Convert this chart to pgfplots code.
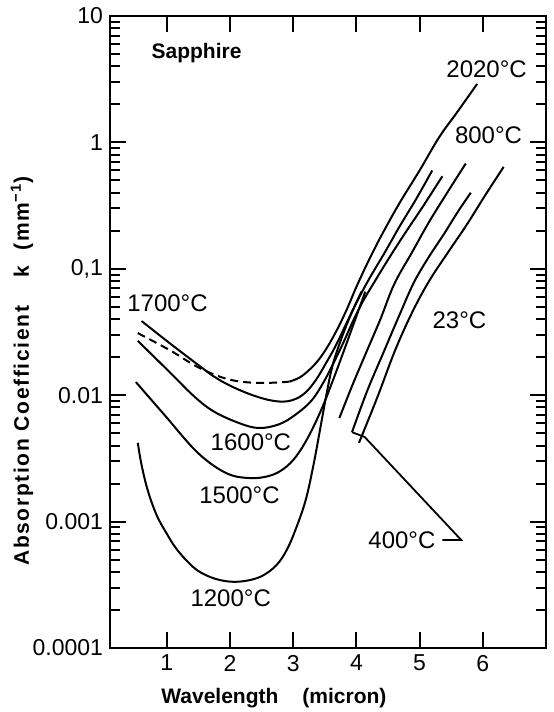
\documentclass[border=0pt]{standalone}
\usepackage{fontspec}
\setmainfont{Liberation Sans}
\usepackage{pgfplots}
\pgfplotsset{compat=1.18}
\tikzset{lab/.style={font=\fontsize{12}{14}\selectfont}}

\begin{document}
\begin{tikzpicture}
\begin{axis}[
  scale only axis, width=218pt, height=316pt,
  xmin=0.1, xmax=7, ymode=log, ymin=1e-4, ymax=10,
  clip mode=individual,
  xtick={1,2,3,4,5,6}, xticklabels={1,2,3,4,5,6},
  ytick={1e-4,1e-3,1e-2,1e-1,1,10},
  yticklabels={0.0001,0.001,0.01,{0,1},1,10},
  tick align=inside, major tick length=8pt, minor tick length=5pt,
  every tick/.style={black, line width=1pt},
  axis line style={line width=1.4pt},
  tick label style={font=\fontsize{11.5}{13}\selectfont},
  /pgf/number format/assume math mode=true,
  curve/.style={black, line width=1pt, smooth, tension=0.6},
]
% 2020 C (dashed at short wavelengths)
\addplot[curve, dash pattern=on 4pt off 2.5pt] coordinates {(0.54,0.0310) (1.04,0.0228) (1.52,0.0164) (1.99,0.0133) (2.46,0.0125) (2.94,0.0128)};
\addplot[curve] coordinates {(2.94,0.0128) (3.10,0.0138) (3.25,0.0158) (3.40,0.0190) (3.55,0.0245) (3.70,0.0335) (3.85,0.0480) (4.00,0.0720) (4.20,0.118) (4.40,0.185) (4.68,0.33) (5.00,0.60) (5.31,1.1) (5.60,1.75) (5.91,2.90)};
% 1700 C
\addplot[curve] coordinates {(0.60,0.0386) (1.04,0.0259) (1.52,0.0170) (1.75,0.0140) (2.00,0.0119) (2.31,0.0102) (2.60,0.0092) (2.85,0.0089) (3.05,0.0094) (3.22,0.0108) (3.38,0.0137) (3.52,0.0180) (3.67,0.0245) (3.83,0.0360) (4.00,0.0540) (4.20,0.083) (4.45,0.135) (4.68,0.215) (4.95,0.36) (5.20,0.60)};
% 1600 C
\addplot[curve] coordinates {(0.54,0.0269) (1.04,0.0153) (1.44,0.0097) (1.75,0.0074) (2.15,0.0060) (2.46,0.0055) (2.78,0.0059) (3.05,0.0071) (3.30,0.0092) (3.50,0.0132) (3.65,0.0185) (3.80,0.0265) (3.95,0.0390) (4.10,0.055) (4.28,0.078) (4.50,0.118) (4.75,0.185) (5.05,0.31) (5.36,0.54)};
% 1500 C
\addplot[curve] coordinates {(0.51,0.0127) (0.96,0.0070) (1.49,0.0035) (1.94,0.00242) (2.31,0.00221) (2.62,0.00230) (2.85,0.00262) (3.05,0.0033) (3.25,0.0048) (3.45,0.0078) (3.62,0.0128) (3.78,0.0210) (3.95,0.036) (4.14,0.066)};
% 1200 C
\addplot[curve] coordinates {(0.54,0.0042) (0.60,0.0028) (0.70,0.00175) (0.84,0.00112) (1.00,0.00080) (1.15,0.00061) (1.35,0.00047) (1.52,0.00040) (1.75,0.000355) (2.00,0.000335) (2.25,0.00034) (2.50,0.00037) (2.73,0.00045) (2.90,0.00060) (3.05,0.00090) (3.20,0.00150) (3.32,0.0028) (3.42,0.0052) (3.52,0.0098) (3.62,0.0170) (3.75,0.0270) (3.90,0.042) (4.08,0.066)};
% 800 C
\addplot[curve] coordinates {(3.73,0.0066) (3.93,0.0118) (4.15,0.0215) (4.38,0.040) (4.60,0.076) (4.88,0.135) (5.15,0.235) (5.45,0.41) (5.73,0.68)};
% 400 C
\addplot[curve] coordinates {(3.93,0.0051) (4.17,0.0108) (4.44,0.0225) (4.68,0.043) (4.91,0.078) (5.15,0.125) (5.39,0.190) (5.60,0.28) (5.81,0.40)};
% 23 C
\addplot[curve] coordinates {(4.04,0.0042) (4.33,0.0096) (4.61,0.0225) (4.88,0.045) (5.15,0.080) (5.45,0.135) (5.75,0.225) (6.05,0.39) (6.33,0.64)};
% pointer to the 400 C ends
\addplot[black, line width=0.9pt] coordinates {(3.93,0.0051) (4.13,0.00467) (5.66,0.000714) (5.36,0.000714)};

\node[font=\bfseries\fontsize{10.5}{12}\selectfont] at (axis cs:1.47,5.09) {Sapphire};
\node[lab] at (axis cs:6.06,3.81) {2020°C};
\node[lab] at (axis cs:6.09,1.14) {800°C};
\node[lab] at (axis cs:1.01,0.0536) {1700°C};
\node[lab] at (axis cs:5.63,0.0394) {23°C};
\node[lab] at (axis cs:2.33,0.00427) {1600°C};
\node[lab] at (axis cs:2.15,0.00162) {1500°C};
\node[lab] at (axis cs:4.72,0.000714) {400°C};
\node[lab] at (axis cs:2.01,0.000249) {1200°C};

\node[rotate=90, font=\bfseries\fontsize{10.5}{12}\selectfont\addfontfeature{LetterSpace=8}] at (rel axis cs:-0.202,0.438) {Absorption Coefficient\hspace{14pt}k\hspace{8pt}(mm\textsuperscript{−1})};
\node[font=\bfseries\fontsize{10.5}{12}\selectfont] at (rel axis cs:0.376,-0.079) {Wavelength\hspace{12pt}(micron)};
\end{axis}
\pgfresetboundingbox
\useasboundingbox ([xshift=-55pt,yshift=-32pt]current axis.south west) rectangle ([xshift=4pt,yshift=8pt]current axis.north east);
\end{tikzpicture}
\end{document}
